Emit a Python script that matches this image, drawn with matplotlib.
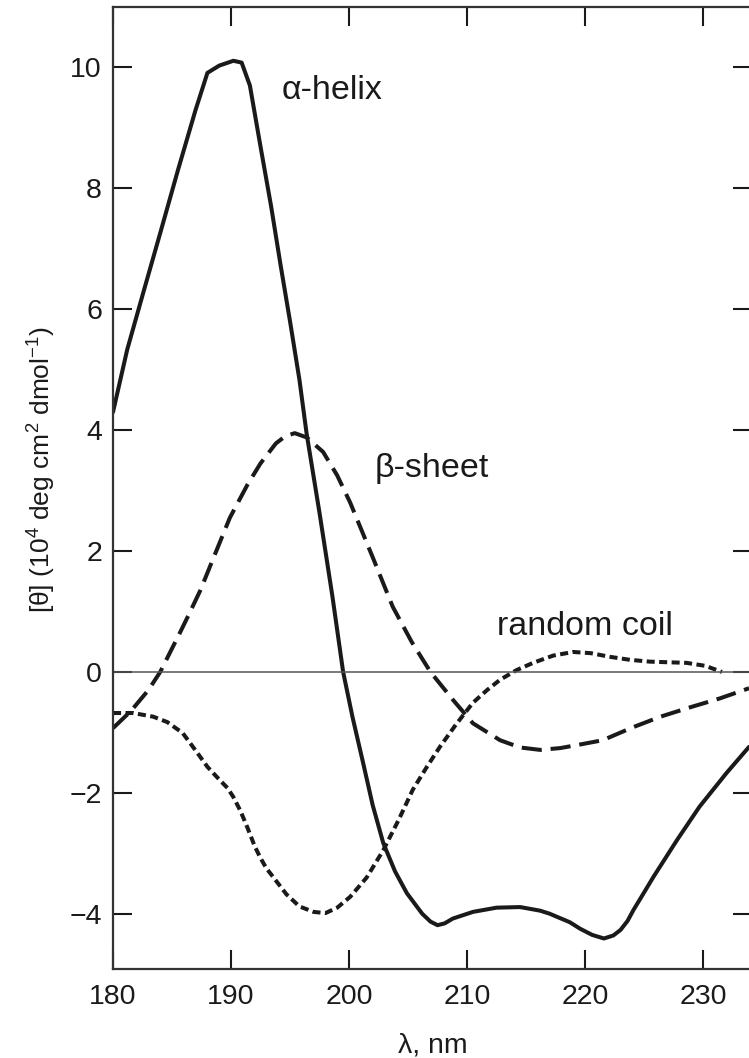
"""CD spectra of the three polypeptide secondary structures."""

import matplotlib

matplotlib.use("Agg")
import matplotlib.pyplot as plt  # noqa: E402

# wavelength (nm) and mean residue ellipticity (10^4 deg cm^2 dmol^-1)
helix_nm = [180.0, 181.2, 182.6, 184.0, 185.5, 187.0, 188.0, 189.0, 190.2, 190.9,
            191.6, 192.5, 193.4, 194.2, 195.0, 195.8, 196.4, 197.5, 198.6, 199.5,
            200.3, 201.2, 202.0, 202.9, 203.9, 204.9, 206.2, 206.9, 207.5, 208.1,
            208.8, 210.5, 212.5, 214.5, 216.2, 217.0, 218.7, 219.6, 220.6, 221.6,
            222.4, 223.0, 223.6, 224.1, 225.0, 225.8, 227.8, 229.7, 232.0, 233.9]
helix = [4.30, 5.33, 6.30, 7.26, 8.30, 9.30, 9.91, 10.03, 10.11, 10.08,
         9.70, 8.69, 7.70, 6.73, 5.80, 4.83, 3.95, 2.63, 1.24, 0.00,
         -0.75, -1.51, -2.20, -2.83, -3.30, -3.66, -4.00, -4.13, -4.19, -4.16,
         -4.08, -3.97, -3.90, -3.89, -3.95, -4.00, -4.14, -4.25, -4.35, -4.41,
         -4.36, -4.27, -4.12, -3.94, -3.65, -3.39, -2.78, -2.23, -1.67, -1.24]

sheet_nm = [180.0, 181.5, 183.0, 184.0, 184.8, 185.7, 186.5, 187.4, 188.5, 189.9,
            191.4, 192.5, 193.8, 194.6, 195.4, 196.4, 197.8, 199.0, 200.1, 202.0,
            203.7, 205.3, 206.9, 208.8, 210.5, 212.8, 214.5, 216.2, 217.9, 219.6,
            221.5, 224.0, 226.4, 229.0, 231.4, 233.9]
sheet = [-0.93, -0.65, -0.30, 0.00, 0.31, 0.66, 0.98, 1.35, 1.88, 2.55,
         3.10, 3.45, 3.78, 3.90, 3.95, 3.88, 3.64, 3.25, 2.80, 1.90,
         1.08, 0.50, 0.00, -0.46, -0.85, -1.13, -1.25, -1.29, -1.26, -1.20,
         -1.13, -0.92, -0.74, -0.58, -0.44, -0.27]

coil_nm = [180.0, 181.7, 183.4, 184.6, 185.9, 187.0, 188.0, 189.0, 189.7, 190.2,
           190.8, 191.4, 192.0, 192.5, 193.0, 193.6, 194.7, 195.8, 197.0, 198.0,
           199.0, 200.1, 201.5, 202.9, 204.2, 205.4, 206.6, 207.7, 209.1, 210.5,
           211.7, 212.8, 214.2, 215.6, 217.3, 219.0, 220.5, 222.1, 223.8, 225.5,
           227.0, 228.6, 230.2, 231.6]
coil = [-0.68, -0.68, -0.74, -0.83, -1.01, -1.30, -1.57, -1.78, -1.92, -2.07,
        -2.30, -2.58, -2.88, -3.08, -3.25, -3.40, -3.68, -3.88, -3.97, -3.99,
        -3.90, -3.72, -3.40, -2.95, -2.45, -1.95, -1.57, -1.24, -0.86, -0.51,
        -0.30, -0.13, 0.03, 0.15, 0.27, 0.33, 0.31, 0.25, 0.20, 0.17,
        0.16, 0.15, 0.10, 0.00]

x_ticks = [180, 190, 200, 210, 220, 230]
y_ticks = [-4, -2, 0, 2, 4, 6, 8, 10]

plt.rcParams["font.family"] = ["Liberation Sans", "DejaVu Sans"]
plt.rcParams["mathtext.fontset"] = "custom"
plt.rcParams["mathtext.rm"] = "Liberation Sans"
plt.rcParams["mathtext.it"] = "Liberation Sans:italic"

ink = "#1a1a1a"
figure = plt.figure(figsize=(7.49, 10.58), dpi=100)
axis = figure.add_axes([0.1509, 0.0841, 0.8531, 0.9093])

axis.plot(helix_nm, helix, color=ink, linewidth=2.9,
          solid_capstyle="round", solid_joinstyle="round")
axis.plot(sheet_nm, sheet, color=ink, linewidth=2.9, linestyle=(0, (5, 2.2)),
          dash_capstyle="butt", dash_joinstyle="round")
axis.plot(coil_nm, coil, color=ink, linewidth=2.9, linestyle=(0, (2, 1.1)),
          dash_capstyle="butt", dash_joinstyle="round")
axis.axhline(0, color="#555555", linewidth=1.1)

axis.text(194.3, 9.48, "\u03b1-helix", fontsize=24.5, color=ink)
axis.text(202.2, 3.23, "\u03b2-sheet", fontsize=24.5, color=ink)
axis.text(212.5, 0.61, "random coil", fontsize=24.5, color=ink)

axis.set_xlim(180, 234.15)
axis.set_ylim(-4.915, 11.0)
axis.set_xticks(x_ticks)
axis.set_yticks(y_ticks)
axis.set_yticklabels([f"{v}".replace("-", "\u2212") for v in y_ticks])
axis.tick_params(direction="in", length=14, width=1.5, color=ink, labelsize=20.5,
                 labelcolor=ink, top=True, right=True)
axis.tick_params(axis="x", pad=11)
axis.tick_params(axis="y", pad=8)
for side in ("left", "bottom", "top"):
    axis.spines[side].set_linewidth(1.6)
    axis.spines[side].set_color("#333333")
axis.spines["right"].set_visible(False)

axis.set_xlabel("\u03bb, nm", fontsize=20.5, color=ink, labelpad=16)
figure.text(0.056, 0.556,
            "[\u03b8] (10$^{4}$ deg cm$^{2}$ dmol$^{-1}$)",
            rotation=90, ha="center", va="center", fontsize=19, color=ink)

figure.savefig("out.png", dpi=100)
plt.close(figure)
